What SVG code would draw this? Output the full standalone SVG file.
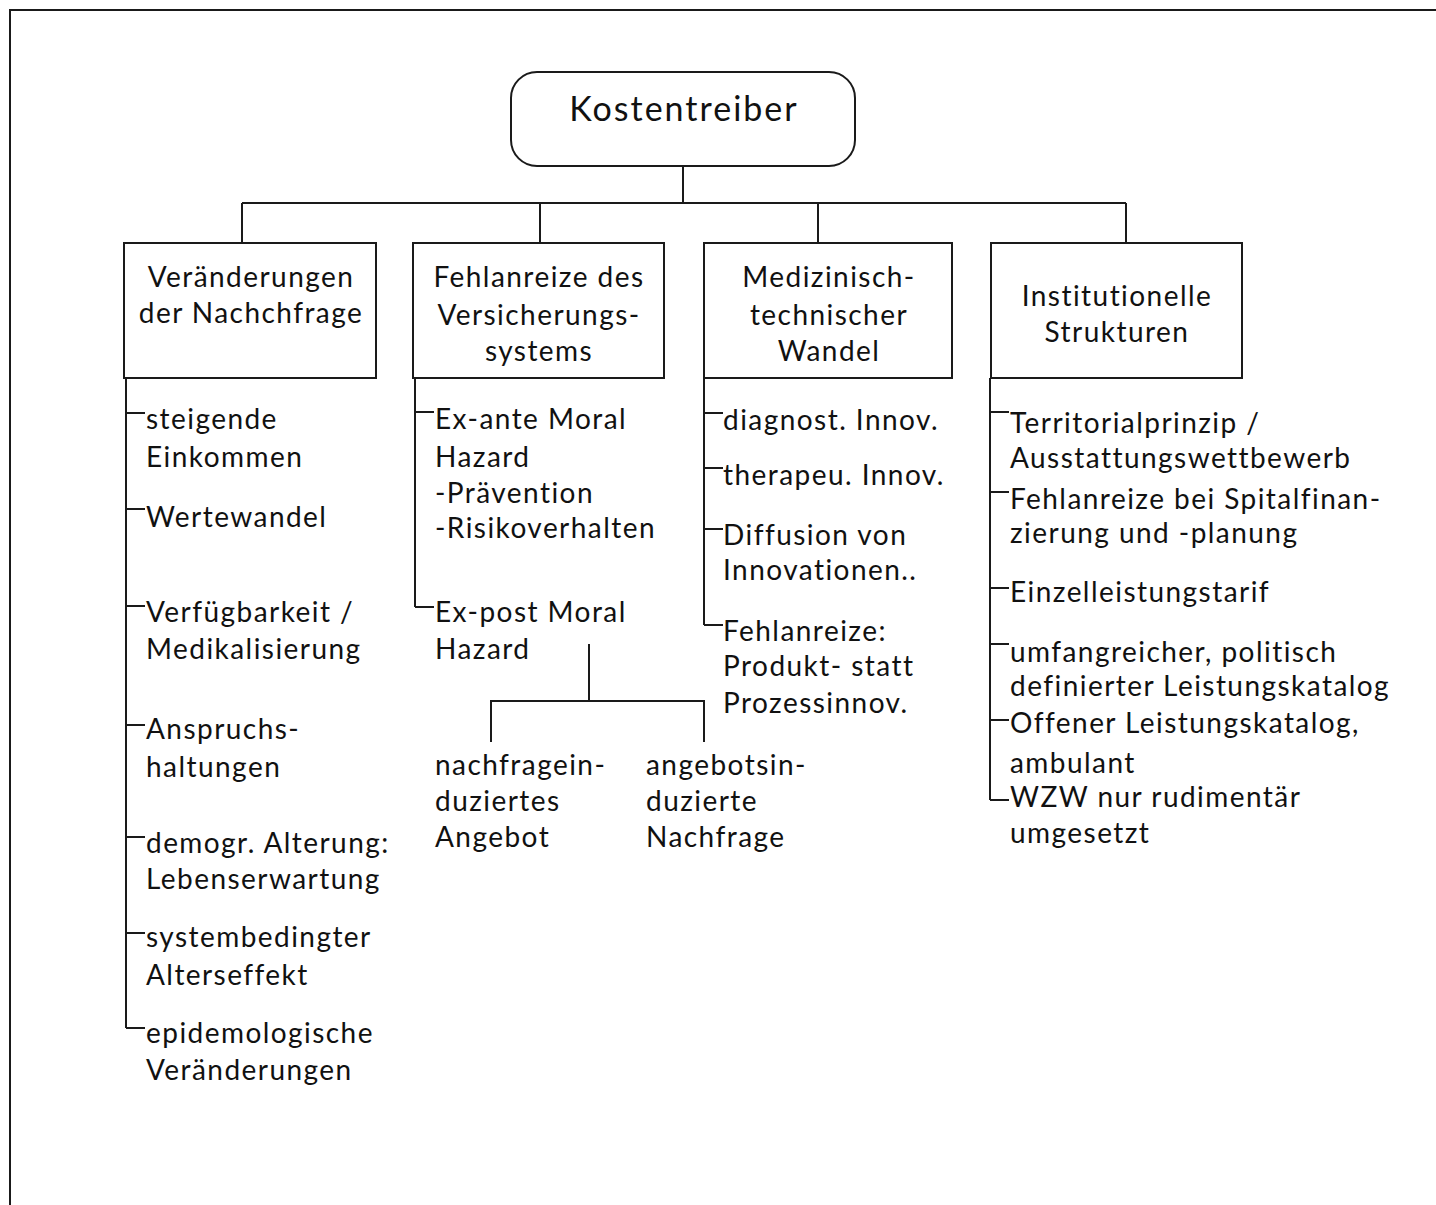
<svg xmlns="http://www.w3.org/2000/svg" width="1436" height="1205" viewBox="0 0 1436 1205">
<style>
  .ln { stroke: #1a1a1a; stroke-width: 2; fill: none; }
  .box { stroke: #1a1a1a; stroke-width: 2; fill: #ffffff; }
  text { font-family: "Lato", "Open Sans", "Liberation Sans", sans-serif; fill: #111; font-size: 28px; letter-spacing: 1.45px; }
  .c { text-anchor: middle; }
  .title { font-size: 34px; letter-spacing: 2px; }
</style>
<rect x="0" y="0" width="1436" height="1205" fill="#ffffff"/>
<g id="frame">
  <path class="ln" d="M10,1205 V10 H1436"/>
</g>
<g id="connectors">
  <path class="ln" d="M683,166 V203 M242,203 H1126 M242,203 V243 M540,203 V243 M818,203 V243 M1126,203 V243"/>
  <path class="ln" d="M126,378 V1028 M126,413 H145 M126,509 H145 M126,606 H145 M126,725 H145 M126,837 H145 M126,933 H145 M126,1028 H145"/>
  <path class="ln" d="M415,378 V607 M415,412 H434 M415,607 H434"/>
  <path class="ln" d="M589,644 V701 M491,742 V701 H704 V742"/>
  <path class="ln" d="M704,378 V625 M704,413 H723 M704,468 H723 M704,529 H723 M704,625 H723"/>
  <path class="ln" d="M990,378 V800 M990,412 H1009 M990,492 H1009 M990,588 H1009 M990,644 H1009 M990,720 H1009 M990,800 H1009"/>
</g>
<g id="root">
  <rect class="box" x="511" y="72" width="344" height="94" rx="26" ry="26"/>
  <text class="c title" x="684" y="121">Kostentreiber</text>
</g>
<g id="n1">
  <rect class="box" x="124" y="243" width="252" height="135"/>
  <text class="c" x="251" y="287">Veränderungen</text>
  <text class="c" x="251" y="323">der Nachchfrage</text>
</g>
<g id="n2">
  <rect class="box" x="413" y="243" width="251" height="135"/>
  <text class="c" x="539" y="287">Fehlanreize des</text>
  <text class="c" x="539" y="325">Versicherungs-</text>
  <text class="c" x="539" y="361">systems</text>
</g>
<g id="n3">
  <rect class="box" x="704" y="243" width="248" height="135"/>
  <text class="c" x="829" y="287">Medizinisch-</text>
  <text class="c" x="829" y="325">technischer</text>
  <text class="c" x="829" y="361">Wandel</text>
</g>
<g id="n4">
  <rect class="box" x="991" y="243" width="251" height="135"/>
  <text class="c" x="1117" y="306">Institutionelle</text>
  <text class="c" x="1117" y="342">Strukturen</text>
</g>
<g id="list1">
  <text x="146" y="429">steigende</text>
  <text x="146" y="467">Einkommen</text>
  <text x="146" y="527">Wertewandel</text>
  <text x="146" y="622">Verfügbarkeit /</text>
  <text x="146" y="659">Medikalisierung</text>
  <text x="146" y="739">Anspruchs-</text>
  <text x="146" y="777">haltungen</text>
  <text x="146" y="853">demogr. Alterung:</text>
  <text x="146" y="889">Lebenserwartung</text>
  <text x="146" y="947">systembedingter</text>
  <text x="146" y="985">Alterseffekt</text>
  <text x="146" y="1043">epidemologische</text>
  <text x="146" y="1080">Veränderungen</text>
</g>
<g id="list2">
  <text x="435" y="429">Ex-ante Moral</text>
  <text x="435" y="467">Hazard</text>
  <text x="435" y="503">-Prävention</text>
  <text x="435" y="538">-Risikoverhalten</text>
  <text x="435" y="622">Ex-post Moral</text>
  <text x="435" y="659">Hazard</text>
</g>
<g id="sub1">
  <text x="435" y="775">nachfragein-</text>
  <text x="435" y="811">duziertes</text>
  <text x="435" y="847">Angebot</text>
</g>
<g id="sub2">
  <text x="646" y="775">angebotsin-</text>
  <text x="646" y="811">duzierte</text>
  <text x="646" y="847">Nachfrage</text>
</g>
<g id="list3">
  <text x="723" y="430">diagnost. Innov.</text>
  <text x="723" y="485">therapeu. Innov.</text>
  <text x="723" y="545">Diffusion von</text>
  <text x="723" y="580">Innovationen..</text>
  <text x="723" y="641">Fehlanreize:</text>
  <text x="723" y="676">Produkt- statt</text>
  <text x="723" y="713">Prozessinnov.</text>
</g>
<g id="list4">
  <text x="1010" y="433">Territorialprinzip /</text>
  <text x="1010" y="468">Ausstattungswettbewerb</text>
  <text x="1010" y="509">Fehlanreize bei Spitalfinan-</text>
  <text x="1010" y="543">zierung und -planung</text>
  <text x="1010" y="602">Einzelleistungstarif</text>
  <text x="1010" y="662">umfangreicher, politisch</text>
  <text x="1010" y="696">definierter Leistungskatalog</text>
  <text x="1010" y="733">Offener Leistungskatalog,</text>
  <text x="1010" y="773">ambulant</text>
  <text x="1010" y="807">WZW nur rudimentär</text>
  <text x="1010" y="843">umgesetzt</text>
</g>
</svg>
